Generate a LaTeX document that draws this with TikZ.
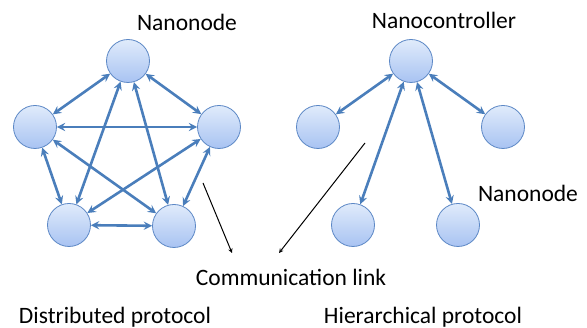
\documentclass[tikz,border=0pt]{standalone}
\usepackage{fontspec}
\setmainfont{Carlito}
\usetikzlibrary{arrows}
\definecolor{nodeline}{HTML}{5B87C5}
\definecolor{nodetop}{HTML}{E0EBFB}
\definecolor{nodebot}{HTML}{A8C3F2}
\definecolor{linkblue}{HTML}{4A7EBB}
\tikzstyle{nano} = [circle, draw=nodeline, line width=0.8pt, top color=nodetop, bottom color=nodebot, minimum size=43pt, inner sep=0]
\tikzstyle{txt} = [inner sep=0, font=\fontsize{23.5}{27}\selectfont]
\tikzstyle{link} = [draw, <->, >=stealth, line width=2.6pt, color=linkblue]
\tikzstyle{pointer} = [draw, ->, >=stealth, line width=1pt]

\begin{document}
\begin{tikzpicture}[x=1pt, y=-1pt]
\useasboundingbox (0,0) rectangle (587,328);

% distributed
\node [nano] (T) at (128,61) {};
\node [nano] (L) at (35,127) {};
\node [nano] (R) at (219,127) {};
\node [nano] (BL) at (69,225) {};
\node [nano] (BR) at (174,226) {};

% hierarchical
\node [nano] (C) at (411,61) {};
\node [nano] (CL) at (318,127) {};
\node [nano] (CR) at (503,127) {};
\node [nano] (CBL) at (353,225) {};
\node [nano] (CBR) at (458,225) {};

\node [txt] (nn1) at (187,22) {Nanonode};
\node [txt] (nc) at (444,20) {Nanocontroller};
\node [txt] (nn2) at (528,193) {Nanonode};
\node [txt] (cl) at (291,277) {Communication link};
\node [txt] (dp) at (115,317) {Distributed protocol};
\node [txt] (hp) at (423,317) {Hierarchical protocol};

\path [link] (T) -- (L);
\path [link] (T) -- (R);
\path [link] (T) -- (BL);
\path [link] (T) -- (BR);
\path [link] (L) -- (R);
\path [link] (L) -- (BL);
\path [link] (L) -- (BR);
\path [link] (R) -- (BL);
\path [link] (R) -- (BR);
\path [link] (BL) -- (BR);

\path [link] (C) -- (CL);
\path [link] (C) -- (CR);
\path [link] (C) -- (CBL);
\path [link] (C) -- (CBR);

\coordinate (p1) at (203,183);
\coordinate (q1) at (232,253);
\coordinate (p2) at (365,143);
\coordinate (q2) at (279,253);
\path [pointer] (p1) -- (q1);
\path [pointer] (p2) -- (q2);

\end{tikzpicture}
\end{document}
